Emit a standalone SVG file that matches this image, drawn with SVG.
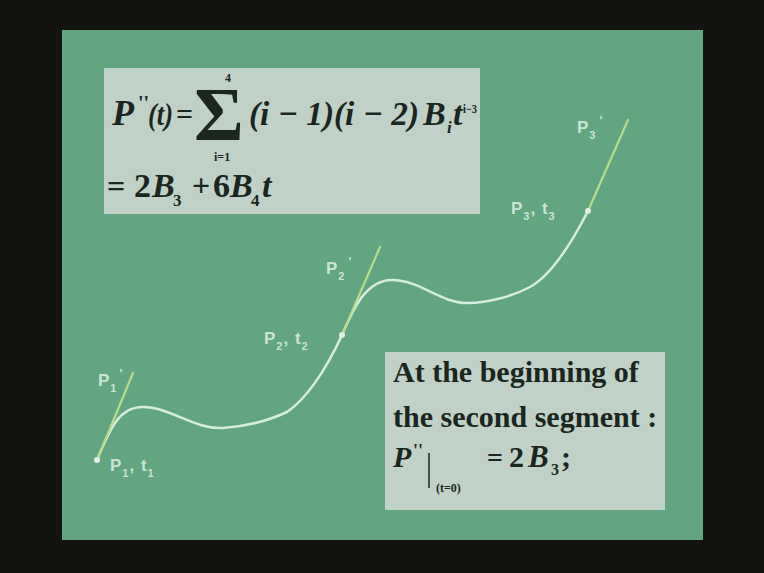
<svg xmlns="http://www.w3.org/2000/svg" width="764" height="573" viewBox="0 0 764 573">
<defs>
<style>
.bg{fill:#131410}
.slide{fill:#62a580}
.box{fill:#c0d2c8}
.m{font-family:"Liberation Serif",serif;font-weight:bold;fill:#1b2620}
.i{font-style:italic}
.lbl{font-family:"Liberation Sans",Arial,sans-serif;font-weight:bold;fill:#d6eadd;opacity:0.9;letter-spacing:1px}
.curve{fill:none;stroke:#d8ece0;stroke-width:2.5;stroke-linecap:round}
.tan{fill:none;stroke:#b9dc8c;stroke-width:2.2;stroke-linecap:round}
.pt{fill:#e2efe6}
</style>
</defs>
<rect class="bg" x="0" y="0" width="764" height="573"/>
<rect class="slide" x="62" y="30" width="641" height="510"/>

<g id="connectors">
<path class="curve" d="M97,460 C111,426 120,407 143,407 C170,407 195,430 223,428 C250,426 270,420 287,412 C305,400 325,372 342,335 C352,312 365,280 392,280 C420,280 440,303 467,303 C490,303 515,295 530,287 C548,277 568,250 588,211"/>
<line class="tan" x1="97" y1="460" x2="133" y2="373"/>
<line class="tan" x1="342" y1="335" x2="380" y2="247"/>
<line class="tan" x1="588" y1="211" x2="628" y2="120"/>
</g>

<g id="formula">
<rect class="box" x="104" y="68" width="376" height="146"/>
<text class="m i" x="112" y="125" font-size="36">P</text>
<text class="m" x="138" y="110" font-size="20">''</text>
<text class="m i" x="148" y="125" font-size="32" textLength="25" lengthAdjust="spacingAndGlyphs">(t)</text>
<text class="m" x="176" y="124" font-size="30">=</text>
<text class="m" x="194" y="140" font-size="76" font-weight="normal">Σ</text>
<text class="m" x="225" y="82" font-size="12">4</text>
<text class="m" x="214" y="161" font-size="12">i=1</text>
<text class="m i" x="249" y="125" font-size="34" textLength="170" lengthAdjust="spacingAndGlyphs">(i − 1)(i − 2)</text>
<text class="m i" x="423" y="125" font-size="34">B</text>
<text class="m i" x="447" y="133" font-size="17">i</text>
<text class="m i" x="453" y="125" font-size="34">t</text>
<text class="m" x="463" y="113" font-size="12" textLength="14" lengthAdjust="spacingAndGlyphs">i−3</text>
<text class="m" x="107" y="197" font-size="32">=</text>
<text class="m" x="134" y="197" font-size="34">2</text>
<text class="m i" x="152" y="197" font-size="34">B</text>
<text class="m" x="173" y="206" font-size="17">3</text>
<text class="m" x="192" y="196" font-size="32">+</text>
<text class="m" x="213" y="197" font-size="34">6</text>
<text class="m i" x="230" y="197" font-size="34">B</text>
<text class="m" x="251" y="206" font-size="17">4</text>
<text class="m i" x="262" y="197" font-size="34">t</text>
</g>

<g id="note">
<rect class="box" x="385" y="352" width="280" height="158"/>
<text class="m" x="393" y="382" font-size="30">At the beginning of</text>
<text class="m" x="393" y="427" font-size="30">the second segment :</text>
<text class="m i" x="393" y="467" font-size="30">P</text>
<text class="m" x="413" y="457" font-size="18">''</text>
<line x1="429" y1="453" x2="429" y2="488" stroke="#1b2620" stroke-width="1.5"/>
<text class="m" x="436" y="492" font-size="12">(t=0)</text>
<text class="m" x="487" y="467" font-size="28">=</text>
<text class="m" x="509" y="467" font-size="30">2</text>
<text class="m i" x="528" y="467" font-size="31">B</text>
<text class="m" x="551" y="475" font-size="16">3</text>
<text class="m" x="561" y="467" font-size="30">;</text>
</g>

<g id="P1">
<circle class="pt" cx="97" cy="460" r="3"/>
<text class="lbl" x="98" y="386" font-size="17">P<tspan font-size="11" dy="6">1</tspan><tspan dy="-14" font-size="12" dx="2">'</tspan></text>
<text class="lbl" x="110" y="471" font-size="17">P<tspan font-size="11" dy="6">1</tspan><tspan dy="-6">, t</tspan><tspan font-size="11" dy="6">1</tspan></text>
</g>
<g id="P2">
<circle class="pt" cx="342" cy="335" r="3"/>
<text class="lbl" x="326" y="274" font-size="17">P<tspan font-size="11" dy="6">2</tspan><tspan dy="-14" font-size="12" dx="3">'</tspan></text>
<text class="lbl" x="264" y="344" font-size="17">P<tspan font-size="11" dy="6">2</tspan><tspan dy="-6">, t</tspan><tspan font-size="11" dy="6">2</tspan></text>
</g>
<g id="P3">
<circle class="pt" cx="588" cy="211" r="3"/>
<text class="lbl" x="577" y="133" font-size="17">P<tspan font-size="11" dy="6">3</tspan><tspan dy="-14" font-size="12" dx="3">'</tspan></text>
<text class="lbl" x="511" y="214" font-size="17">P<tspan font-size="11" dy="6">3</tspan><tspan dy="-6">, t</tspan><tspan font-size="11" dy="6">3</tspan></text>
</g>
</svg>
